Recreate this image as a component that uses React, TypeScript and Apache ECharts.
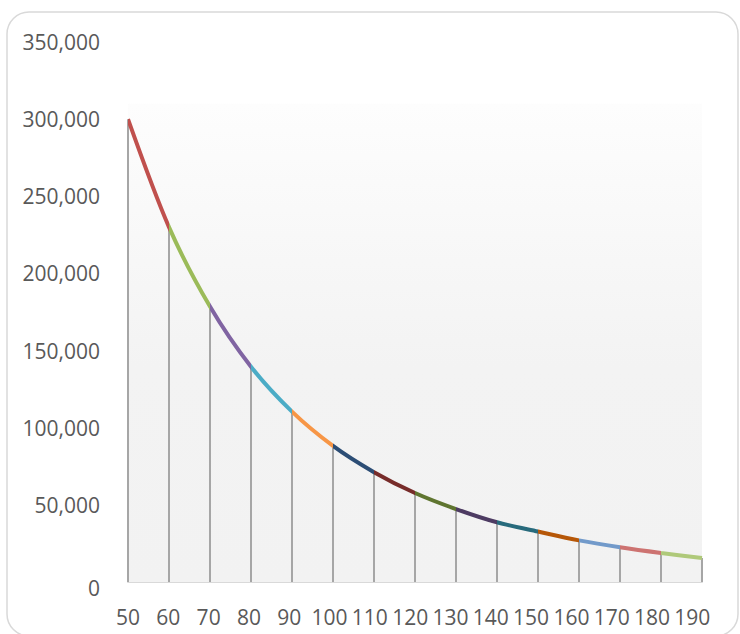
import React, { useEffect, useRef } from "react";
import * as echarts from "echarts";

const xValues = [50, 60, 70, 80, 90, 100, 110, 120, 130, 140, 150, 160, 170, 180, 190];
const yValues = [300000, 230000, 178500, 139500, 110400, 88200, 71200, 57700, 47300, 38700, 32700, 27000, 22500, 18800, 15600];
const segmentColors = [
  "#C0504D", "#9BBB59", "#8064A2", "#4BACC6", "#F79646",
  "#2C4D75", "#772C2A", "#5F7530", "#4D3B62", "#276A7C",
  "#B65708", "#729ACA", "#CD7371", "#AFC97A",
];
const yTicks = { min: 0, max: 350000, interval: 50000 };
const xLabelAxisMax = 192.4;
const plotFillTop = 310000;

export default function App() {
  const ref = useRef<HTMLDivElement>(null);
  useEffect(() => {
    document.body.style.margin = "0";
    const chart = echarts.init(ref.current!, null, { renderer: "svg" });
    const points = xValues.map((x, i) => [x, yValues[i]]);
    const pieces = segmentColors.map((c, i) => ({
      gte: xValues[i],
      lt: i === segmentColors.length - 1 ? xValues[i + 1] + 1 : xValues[i + 1],
      color: c,
    }));
    const font = "'Open Sans', 'Noto Sans', sans-serif";
    chart.setOption({
      animation: false,
      backgroundColor: "#ffffff",
      grid: { left: 128, right: 38, top: 42, bottom: 52 },
      graphic: [
        {
          type: "rect",
          silent: true,
          z: -10,
          shape: { x: 7, y: 12, width: 731, height: 624, r: 22 },
          style: { fill: "none", stroke: "#D9D9D9", lineWidth: 1.5 },
        },
      ],
      xAxis: [
        {
          type: "value",
          min: xValues[0],
          max: xValues[xValues.length - 1],
          interval: 10,
          splitLine: { show: false },
          axisTick: { show: false },
          axisLine: { show: true, lineStyle: { color: "#D9D9D9", width: 2 } },
          axisLabel: { show: false },
        },
        {
          type: "value",
          position: "bottom",
          min: xValues[0],
          max: xLabelAxisMax,
          interval: 10,
          splitLine: { show: false },
          axisTick: { show: false },
          axisLine: { show: false },
          axisLabel: {
            color: "#595959",
            fontSize: 21,
            fontFamily: font,
            margin: 24,
            showMaxLabel: false,
            formatter: (v: number) => (v % 10 === 0 && v <= xValues[xValues.length - 1] ? String(v) : ""),
          },
        },
      ],
      yAxis: {
        type: "value",
        min: yTicks.min,
        max: yTicks.max,
        interval: yTicks.interval,
        splitLine: { show: false },
        axisTick: { show: false },
        axisLine: { show: false },
        axisLabel: {
          color: "#595959",
          fontSize: 21,
          fontFamily: font,
          margin: 28,
          formatter: (v: number) => (v === 0 ? "{z|0}" : v.toLocaleString("en-US")),
          rich: { z: { color: "#595959", fontSize: 21, fontFamily: font, padding: [12, 0, 0, 0] } },
        },
      },
      visualMap: {
        show: false,
        type: "piecewise",
        dimension: 0,
        seriesIndex: 2,
        pieces,
      },
      series: [
        {
          type: "line",
          z: 1,
          data: points,
          symbol: "none",
          lineStyle: { width: 0, opacity: 0 },
          silent: true,
          markArea: {
            silent: true,
            itemStyle: {
              color: {
                type: "linear",
                x: 0, y: 0, x2: 0, y2: 1,
                colorStops: [
                  { offset: 0, color: "#FDFDFD" },
                  { offset: 0.55, color: "#F3F3F3" },
                  { offset: 1, color: "#F2F2F2" },
                ],
              },
            },
            data: [[{ xAxis: xValues[0], yAxis: 0 }, { xAxis: xValues[xValues.length - 1], yAxis: plotFillTop }]],
          },
        },
        {
          type: "custom",
          z: 3,
          data: points,
          renderItem: (params: any, api: any) => {
            const top = api.coord([api.value(0), api.value(1)]);
            const bot = api.coord([api.value(0), 0]);
            return {
              type: "line",
              shape: { x1: top[0], y1: top[1], x2: bot[0], y2: bot[1] },
              style: { stroke: "#A6A6A6", lineWidth: 2 },
            };
          },
        },
        {
          type: "line",
          z: 4,
          data: points,
          smooth: 0.3,
          showSymbol: false,
          symbol: "none",
          lineStyle: { width: 4, cap: "butt" },
        },
      ],
    });
    return () => chart.dispose();
  }, []);
  return <div ref={ref} style={{ width: 740, height: 634 }} />;
}
